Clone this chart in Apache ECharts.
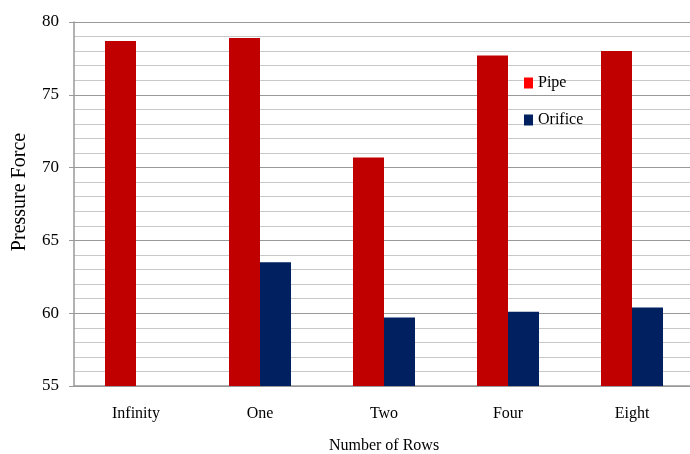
<!DOCTYPE html>
<html>
<head>
<meta charset="utf-8">
<script src="https://cdn.jsdelivr.net/npm/echarts@6/dist/echarts.min.js"></script>
<style>
  html, body { margin: 0; padding: 0; background: #fff; }
  #chart { width: 690px; height: 454px; }
</style>
</head>
<body>
<div id="chart"></div>
<script>
(function(){
    var categories = ['Infinity', 'One', 'Two', 'Four', 'Eight'];
    var pipeValues = [78.7, 78.9, 70.7, 77.7, 78.0];
    var orificeValues = [null, 63.5, 59.7, 60.1, 60.4];

    var serif = 'Liberation Serif';
    var myChart = echarts.init(document.getElementById('chart'));

    var option = {
        animation: false,
        textStyle: { fontFamily: serif },
        // legend inside the plot, right side
        legend: {
            orient: 'vertical',
            left: 519,
            top: 70,
            itemWidth: 9,
            itemHeight: 11,
            itemGap: 21,
            textStyle: { fontFamily: serif, fontSize: 16, color: '#000' },
            data: [
                { name: 'Pipe', icon: 'rect', itemStyle: { color: '#ff0000' } },
                { name: 'Orifice', icon: 'rect', itemStyle: { color: '#002060' } }
            ]
        },
        // plot runs a little past the right edge, as in the source image
        grid: {
            left: 74,
            right: -4,
            top: 22,
            bottom: 68,
            outerBoundsMode: 'none'
        },
        xAxis: {
            type: 'category',
            data: categories,
            name: 'Number of Rows',
            nameLocation: 'middle',
            nameGap: 52,
            nameTextStyle: { fontFamily: serif, fontSize: 16, color: '#000' },
            axisLine: { lineStyle: { color: '#999', width: 1.5 } },
            axisTick: { show: false },
            axisLabel: { margin: 20, fontFamily: serif, fontSize: 16, color: '#000' }
        },
        yAxis: {
            type: 'value',
            min: 55,
            max: 80,
            interval: 5,
            name: 'Pressure Force',
            nameLocation: 'middle',
            nameGap: 44,
            nameTextStyle: { fontFamily: serif, fontSize: 20, color: '#000', padding: [0, 0, 0, 24] },
            axisLine: { show: true, lineStyle: { color: '#999', width: 1.5 } },
            axisTick: { show: true, length: 5, lineStyle: { color: '#999' } },
            axisLabel: { margin: 15, fontFamily: serif, fontSize: 17, color: '#000' },
            splitLine: { lineStyle: { color: '#999', width: 1.2 } },
            minorTick: { show: false, splitNumber: 5 },
            minorSplitLine: { show: true, lineStyle: { color: '#c8c8c8', width: 1.2 } }
        },
        series: [{
            name: 'Pipe',
            type: 'bar',
            barWidth: '25%',
            barGap: '0%',
            itemStyle: { color: '#c00000' },
            data: pipeValues
        }, {
            name: 'Orifice',
            type: 'bar',
            barWidth: '25%',
            barGap: '0%',
            itemStyle: { color: '#002060' },
            data: orificeValues
        }]
    };

    myChart.setOption(option);
})();
</script>
</body>
</html>
